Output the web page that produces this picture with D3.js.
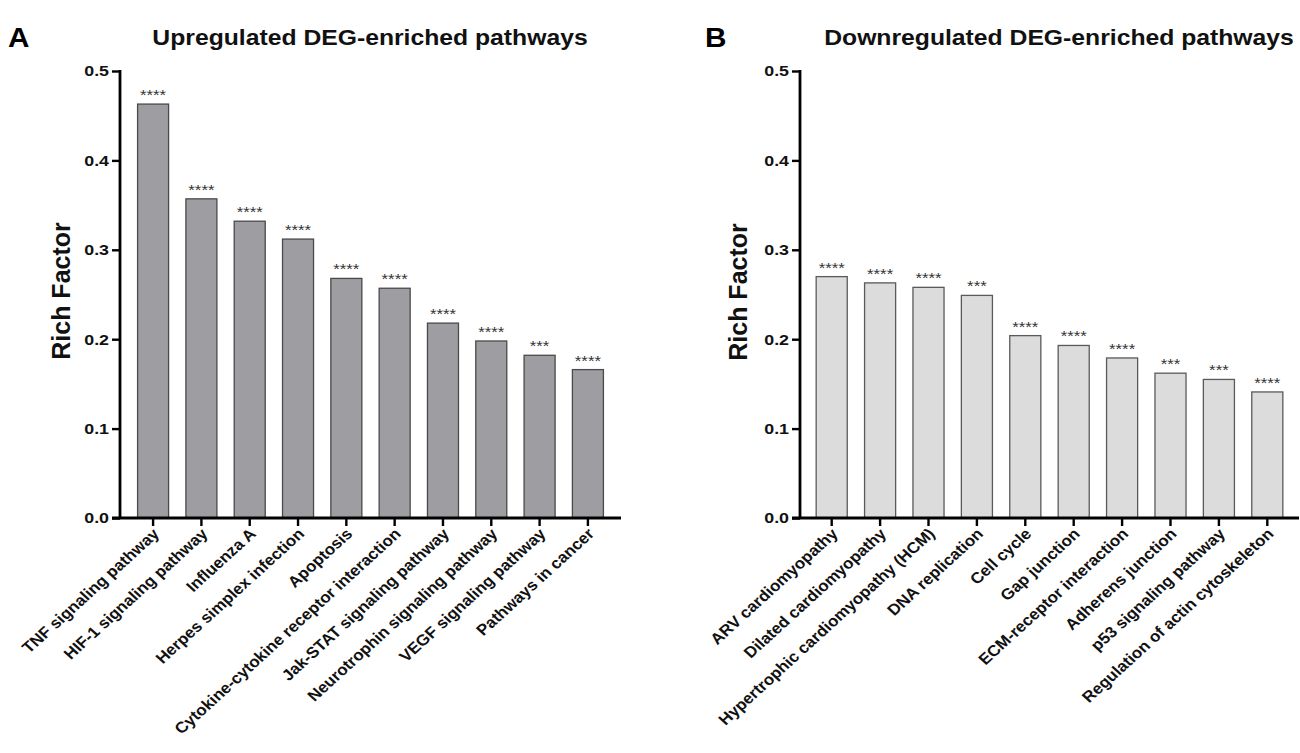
<!DOCTYPE html>
<html><head><meta charset="utf-8">
<script src="https://cdn.jsdelivr.net/npm/d3@7"></script>
<style>body{margin:0;background:#fff}svg{display:block;font-family:"Liberation Sans",Arial,sans-serif}</style>
</head><body><svg id="c" width="1300" height="753"></svg>
<script>
const upCategories = ["TNF signaling pathway","HIF-1 signaling pathway","Influenza A","Herpes simplex infection","Apoptosis","Cytokine-cytokine receptor interaction","Jak-STAT signaling pathway","Neurotrophin signaling pathway","VEGF signaling pathway","Pathways in cancer"];
const upValues = [0.463, 0.357, 0.332, 0.312, 0.268, 0.257, 0.218, 0.198, 0.182, 0.166];
const upStars = ["****","****","****","****","****","****","****","****","***","****"];
const downCategories = ["ARV cardiomyopathy","Dilated cardiomyopathy","Hypertrophic cardiomyopathy (HCM)","DNA replication","Cell cycle","Gap junction","ECM-receptor interaction","Adherens junction","p53 signaling pathway","Regulation of actin cytoskeleton"];
const downValues = [0.270, 0.263, 0.258, 0.249, 0.204, 0.193, 0.179, 0.162, 0.155, 0.141];
const downStars = ["****","****","****","***","****","****","****","***","***","****"];
const yTicks = [0.0, 0.1, 0.2, 0.3, 0.4, 0.5];

const SX = 1.1; // slight horizontal stretch of the original figure
const svg = d3.select("#c");

function panel(o){
  const g = svg.append("g");
  const y = d3.scaleLinear().domain([0,0.5]).range([518,71]);
  const x = d3.scaleBand().domain(o.cats).range([o.x0,o.x1]).paddingInner(0.358).paddingOuter(o.po);
  // bars
  g.selectAll("rect.bar").data(o.vals).enter().append("rect")
    .attr("x",(d,i)=>x(o.cats[i])).attr("width",x.bandwidth())
    .attr("y",d=>y(d)).attr("height",d=>y(0)-y(d))
    .attr("fill",o.fill).attr("stroke",o.stroke).attr("stroke-width",1.3);
  // stars
  g.selectAll("text.star").data(o.vals).enter().append("text")
    .attr("transform",(d,i)=>`translate(${x(o.cats[i])+x.bandwidth()/2},${y(d)-4}) scale(1.2,1)`)
    .attr("text-anchor","middle").attr("font-size",14).attr("fill","#333")
    .text((d,i)=>o.stars[i]);
  // y axis
  const ya = g.append("g").attr("transform",`translate(${o.x0},0)`)
    .call(d3.axisLeft(y).tickValues(yTicks).tickFormat(d3.format(".1f")).tickSize(8).tickPadding(3));
  ya.select(".domain").attr("stroke","#000").attr("stroke-width",2.8).attr("d",`M0,${y(0.5)-1}V${y(0)}`);
  ya.selectAll(".tick line").attr("stroke","#000").attr("stroke-width",2.4);
  ya.selectAll(".tick text").attr("font-size",15.5).attr("font-weight","bold").attr("fill","#111")
    .attr("font-family","Liberation Sans, Arial, sans-serif")
    .attr("x",-11/1.15).attr("transform",`scale(1.15,1)`);
  // x axis
  const xa = g.append("g").attr("transform",`translate(0,${y(0)})`)
    .call(d3.axisBottom(x).tickSize(8).tickPadding(3));
  xa.select(".domain").attr("stroke","#000").attr("stroke-width",2.8).attr("d",`M${o.x0-8},0H${o.x1}`);
  xa.selectAll(".tick line").attr("stroke","#000").attr("stroke-width",2.4);
  xa.selectAll(".tick text").attr("font-size",15.5).attr("font-weight","bold").attr("fill","#111")
    .attr("font-family","Liberation Sans, Arial, sans-serif")
    .attr("text-anchor","end").attr("x",0).attr("y",0).attr("dy","0.35em")
    .attr("transform",`translate(3,13) scale(${SX},1) rotate(-45)`);
  // y label
  g.append("text").attr("transform",`translate(${o.ylx},${o.yly}) rotate(-90)`).attr("text-anchor","middle")
    .attr("font-size",25).attr("font-weight","bold").attr("fill","#111").text("Rich Factor");
  // title
  g.append("text").attr("transform",`translate(${o.tx},45) scale(1.15,1)`).attr("text-anchor","middle").attr("font-size",21.5)
    .attr("font-weight","bold").attr("fill","#111").text(o.title);
  g.append("text").attr("transform",`translate(${o.lx},47) scale(1.1,1)`).attr("font-size",27).attr("font-weight","bold").attr("fill","#000").text(o.letter);
}

panel({cats:upCategories, vals:upValues, stars:upStars, x0:120, x1:621, po:0.364, fill:"#9d9da2", stroke:"#4a4a4a",
  ylx:70, yly:291, tx:370, title:"Upregulated DEG-enriched pathways", lx:8, letter:"A"});
panel({cats:downCategories, vals:downValues, stars:downStars, x0:800, x1:1299, po:0.334, fill:"#dcdcdc", stroke:"#5a5a5a",
  ylx:747, yly:292, tx:1059, title:"Downregulated DEG-enriched pathways", lx:705, letter:"B"});
</script></body></html>
